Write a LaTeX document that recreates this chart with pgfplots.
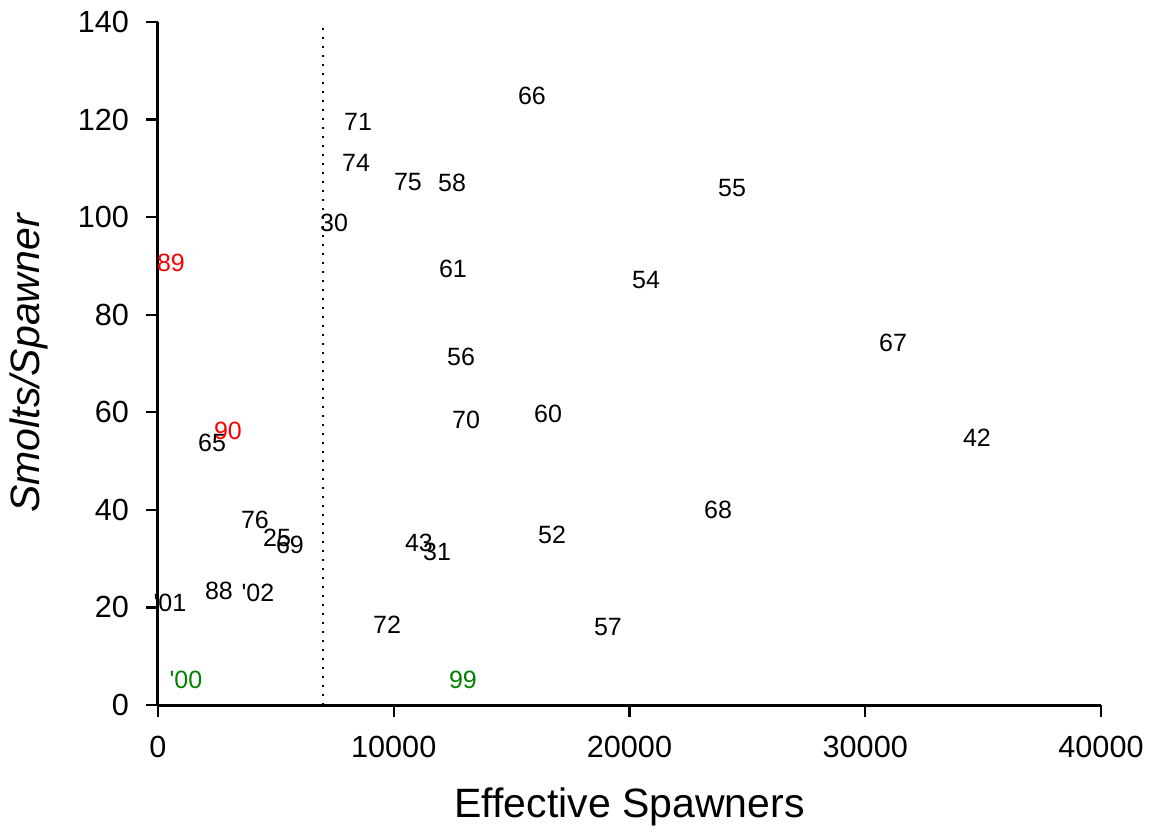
\documentclass[border=0pt]{standalone}
\usepackage{fontspec}
\setmainfont{Liberation Sans}
\usepackage{pgfplots}
\pgfplotsset{compat=1.18}
\newcommand\ap{\textquotesingle}
\definecolor{lblred}{RGB}{255,0,0}
\definecolor{lblgreen}{RGB}{0,128,0}
\begin{document}
\begin{tikzpicture}
\begin{axis}[
  scale only axis,
  width=471.5pt, height=341.5pt,
  xmin=0, xmax=40000, ymin=0, ymax=140,
  axis x line*=bottom, axis y line*=left,
  axis line style={line width=1.5pt, -},
  every tick/.style={black, line width=1.2pt},
  tick align=outside,
  major tick length=6pt,
  xtick={0,10000,20000,30000,40000},
  ytick={0,20,40,60,80,100,120,140},
  scaled x ticks=false,
  /pgf/number format/.cd, 1000 sep={}, assume math mode=true,
  /pgfplots/.cd,
  tick label style={font=\fontsize{15.3}{17}\selectfont},
  xticklabel style={yshift=-6pt},
  yticklabel style={xshift=-5pt},
  xlabel={Effective Spawners},
  ylabel={\itshape Smolts/Spawner},
  xlabel style={font=\fontsize{20.5}{23}\selectfont, at={(axis description cs:0.5,0)}, anchor=center, yshift=-51pt},
  ylabel style={font=\fontsize{20.5}{23}\selectfont, at={(axis description cs:0,0.5)}, anchor=center, yshift=64.5pt},
  clip=false,
  nodes near coords,
  point meta=explicit symbolic,
  nodes near coords align={center},
  every node near coord/.style={font=\fontsize{12.5}{14}\selectfont, inner sep=0pt},
]
\addplot[black, line width=1pt, dash pattern=on 1pt off 3.5pt, nodes near coords=] coordinates {(7000,0) (7000,140)};
\addplot[only marks, mark=none, every node near coord/.append style={text=black}] table[meta=label] {
x y label
15864 124.8 66
8484 119.5 71
8399 111.1 74
10604 107.2 75
12471 107.0 58
24348 106.0 55
7466 98.8 30
12513 89.4 61
20700 87.1 54
31177 74.2 67
12853 71.3 56
16543 59.6 60
13065 58.4 70
34740 54.7 42
2291 53.7 65
23754 40.0 68
4114 37.9 76
5048 34.2 25
5599 32.8 69
16713 34.8 52
11071 33.2 43
11835 31.4 31
2587 23.4 88
4242 23.0 \ap02
509 20.9 \ap01
9714 16.4 72
19088 16.0 57
};
\addplot[only marks, mark=none, every node near coord/.append style={text=lblred}] table[meta=label] {
x y label
551 90.6 89
2969 56.2 90
};
\addplot[only marks, mark=none, every node near coord/.append style={text=lblgreen}] table[meta=label] {
x y label
1188 5.1 \ap00
12937 5.1 99
};
\end{axis}
\pgfresetboundingbox
\useasboundingbox (-79pt,-65.5pt) rectangle (501pt,352.5pt);
\end{tikzpicture}
\end{document}
